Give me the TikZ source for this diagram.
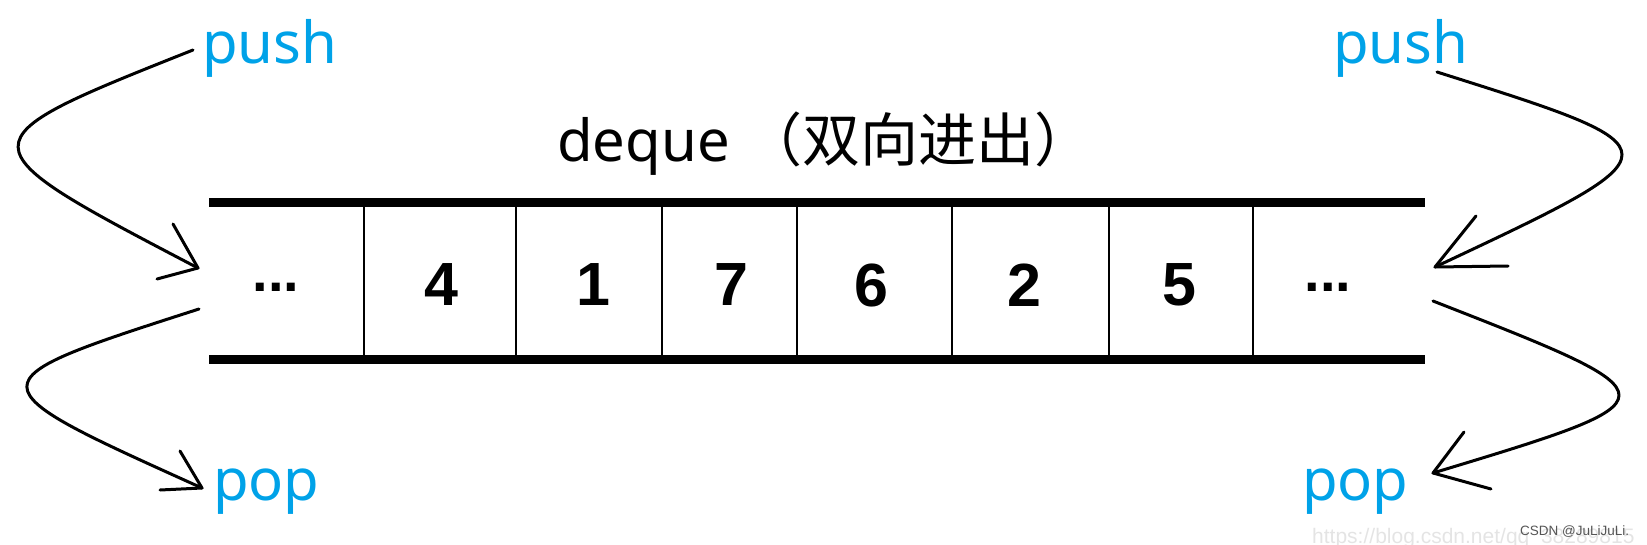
\documentclass[tikz,border=0pt]{standalone}
\usepackage{fontspec}
\setmainfont{Liberation Sans}
\newfontfamily\notosans{Noto Sans}
\newfontfamily\cjkfont{Noto Sans CJK SC}
\usetikzlibrary{calc}
\definecolor{pushblue}{RGB}{0,162,232}
\definecolor{wmgray}{RGB}{85,85,85}
\definecolor{wmlight}{RGB}{228,228,228}
\begin{document}
\begin{tikzpicture}[x=1pt,y=-1pt,
  bar/.style={line width=9pt},
  divider/.style={line width=2.6pt},
  num/.style={font=\fontsize{61}{61}\selectfont\bfseries, inner sep=0pt},
  dotsstyle/.style={font=\fontsize{56}{56}\selectfont\bfseries, inner sep=0pt},
  lbl/.style={font=\notosans\fontsize{58}{58}\selectfont, text=pushblue, inner sep=0pt, anchor=base west},
  curve/.style={line width=3pt, line cap=round, line join=round},
]
\useasboundingbox (0,0) rectangle (1647,544);

% watermark
\node[anchor=base west, inner sep=0pt, text=wmlight, font=\fontsize{21}{21}\selectfont] (url) at (1312,543) {https://blog.csdn.net/qq\_38289815};
\node[anchor=base west, inner sep=0pt, text=wmgray, font=\fontsize{13.5}{13.5}\selectfont] (csdn) at (1520,535) {CSDN @JuLiJuLi.};

% title
\node[anchor=base west, inner sep=0pt, font=\fontsize{58}{58}\selectfont] (title) at (557,161) {\notosans deque {\cjkfont （双向进出）}};

% bars
\coordinate (barTL) at (209,202);
\coordinate (barTR) at (1425,202);
\coordinate (barBL) at (209,359);
\coordinate (barBR) at (1425,359);
\draw[bar] (barTL) -- (barTR);
\draw[bar] (barBL) -- (barBR);
\foreach \x in {364,516,662,797,952,1109,1253}
  \draw[divider] (\x,206) -- (\x,355);

% cell contents
\node[dotsstyle] (c0) at (276,287) {...};
\node[num] (c1) at (441,285) {4};
\node[num] (c2) at (593,285) {1};
\node[num] (c3) at (731,285) {7};
\node[num] (c4) at (871,285) {6};
\node[num] (c5) at (1024,285) {2};
\node[num] (c6) at (1179,285) {5};
\node[dotsstyle] (c7) at (1328,287) {...};

% labels
\node[lbl] (pushL) at (202,63) {push};
\node[lbl] (pushR) at (1333,63) {push};
\node[lbl] (popL) at (213,500) {pop};
\node[lbl] (popR) at (1302,500) {pop};

% arrow coordinates
\coordinate (pLs) at (193,50);
\coordinate (pLt) at (198,268);
\coordinate (pRs) at (1437,72);
\coordinate (pRt) at (1435,267);
\coordinate (oLs) at (199,309);
\coordinate (oLt) at (202,488);
\coordinate (oRs) at (1433,301);
\coordinate (oRt) at (1433,473);

% curves
\draw[curve] (pLs) .. controls (-41,143) and (-41,143) .. (pLt);
\draw[curve] (pRs) .. controls (1684,150) and (1684,150) .. (pRt);
\draw[curve] (oLs) .. controls (-31,383) and (-31,383) .. (oLt);
\draw[curve] (oRs) .. controls (1681,398) and (1681,398) .. (oRt);

% arrow heads
\draw[curve] ($(pLt)+(-25,-44)$) -- (pLt) -- ($(pLt)+(-41,11)$);
\draw[curve] ($(pRt)+(41,-51)$) -- (pRt) -- ($(pRt)+(73,-1)$);
\draw[curve] ($(oLt)+(-22,-37)$) -- (oLt) -- ($(oLt)+(-42,2)$);
\draw[curve] ($(oRt)+(31,-41)$) -- (oRt) -- ($(oRt)+(58,16)$);
\end{tikzpicture}
\end{document}
